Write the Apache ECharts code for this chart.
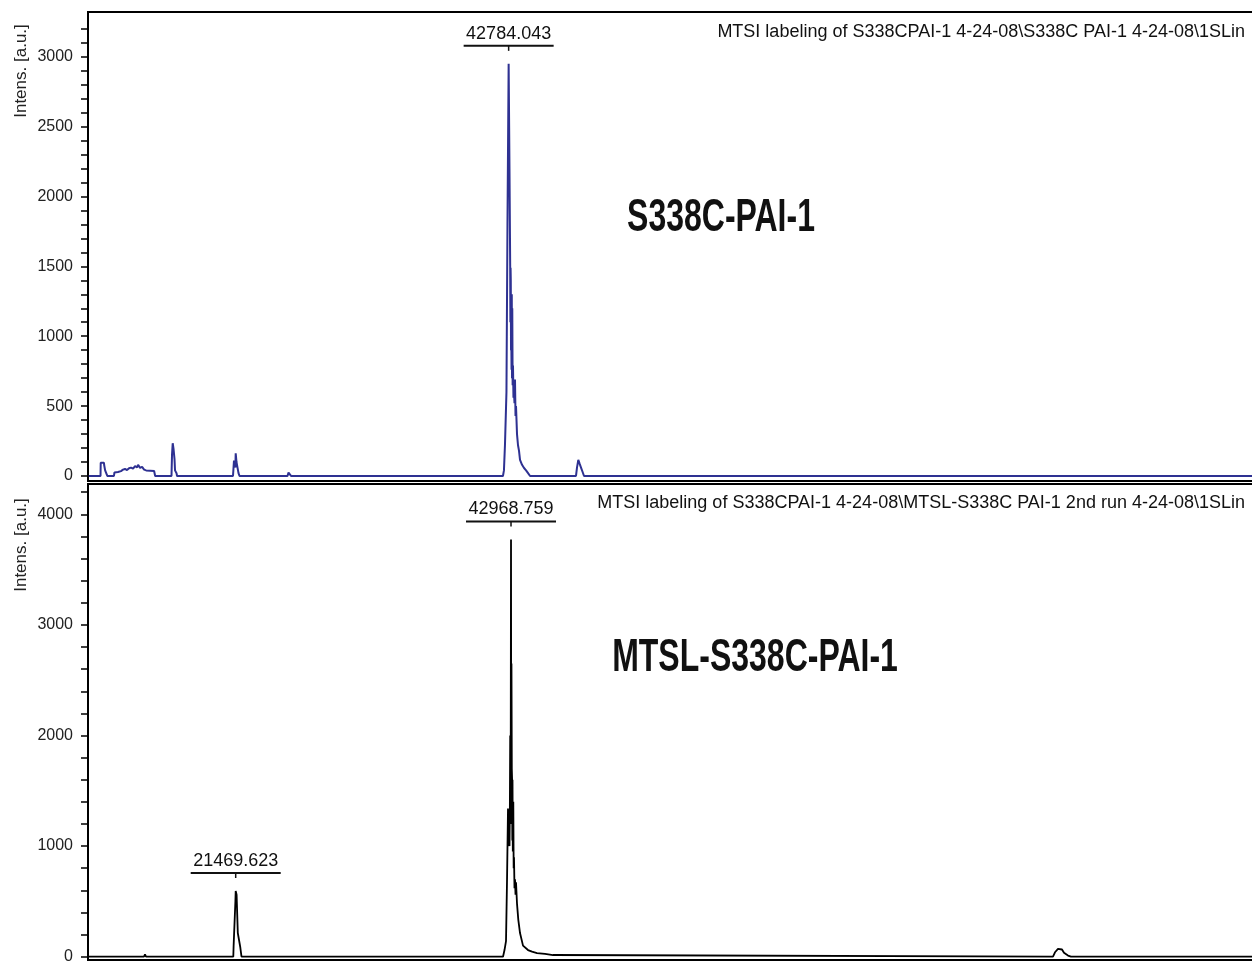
<!DOCTYPE html>
<html>
<head>
<meta charset="utf-8">
<script src="https://cdn.jsdelivr.net/npm/echarts@6/dist/echarts.min.js"></script>
<style>
  html, body { margin: 0; padding: 0; background: #fff; overflow: hidden; }
  #chart { width: 1252px; height: 962px; }
</style>
</head>
<body>
<div id="chart"></div>
<script>
// Mass range shared by both spectra (m/z); the plot runs past the right edge of the page
const massRange = [9936, 101301];

// S338C-PAI-1 spectrum: [m/z, intensity a.u.]
const topSpectrum = [
  [10000, 0], [10914, 0], [10929, 95], [11184, 95], [11194, 80], [11264, 80], [11274, 40], [11424, 40], [11444, 0],
  [11963, 0], [12002, 25], [12277, 28], [12355, 40], [12512, 35], [12669, 45], [12826, 50], [12983, 42], [13140, 55],
  [13297, 60], [13454, 52], [13611, 70], [13768, 62], [13846, 80], [14003, 58], [14160, 65], [14317, 45], [14474, 40],
  [14788, 38], [15100, 36], [15180, 0],
  [16456, 0], [16496, 150], [16551, 234], [16613, 195], [16692, 120], [16731, 40], [16849, 20], [16888, 0],
  [21258, 0], [21336, 110], [21415, 115], [21443, 60], [21470, 162], [21532, 100], [21611, 60], [21689, 20], [21768, 0],
  [25515, 0], [25593, 24], [25711, 20], [25789, 0],
  [42339, 0], [42417, 40], [42496, 220], [42613, 600], [42692, 1800], [42784.043, 2949], [42849, 2200], [42904, 1500],
  [42920, 1100], [42935, 1490], [42951, 1400], [42970, 900], [42990, 1000], [43010, 760], [43029, 1300], [43048, 700],
  [43068, 1200], [43095, 650], [43123, 790], [43160, 560], [43202, 600], [43240, 520], [43280, 690], [43320, 430],
  [43359, 500], [43437, 300], [43516, 220], [43594, 180], [43673, 115], [43830, 80], [43987, 57], [44143, 40],
  [44300, 20], [44457, 0],
  [48043, 0], [48121, 60], [48224, 115], [48318, 90], [48436, 60], [48553, 30], [48671, 0],
  [101301, 0]
];

// MTSL-S338C-PAI-1 spectrum: [m/z, intensity a.u.]
const bottomSpectrum = [
  [10000, 0], [12747, 0], [12825, 12], [12903, 0], [14309, 0], [14387, 20], [14465, 0],
  [21282, 0], [21305, 90], [21415, 100], [21446, 500], [21469.623, 594], [21540, 560], [21634, 214], [21767, 214],
  [21821, 90], [21923, 0],
  [26569, 0], [26647, 10], [26725, 0],
  [42344, 0], [42461, 60], [42578, 140], [42656, 680], [42734, 1340], [42760, 1000], [42797, 1300], [42825, 1050],
  [42851, 1000], [42880, 1350], [42906, 2000], [42940, 1200], [42968.759, 3773], [42985, 1500], [43005, 2650],
  [43031, 1700], [43055, 1600], [43070, 1050], [43086, 1600], [43110, 950], [43148, 1400], [43175, 800], [43203, 900],
  [43240, 620], [43281, 700], [43320, 560], [43359, 672], [43437, 480], [43539, 333], [43672, 214], [43906, 100],
  [44296, 60], [44609, 45], [45000, 33], [45624, 25], [46249, 15], [46405, 0],
  [85292, 0], [85448, 40], [85683, 70], [85839, 76], [85995, 65], [86151, 35], [86307, 20], [86464, 10], [86698, 0],
  [101301, 0]
];

// Annotated peak positions (m/z)
const topPeakMasses = [42784.043];
const bottomPeakMasses = [21469.623, 42968.759];

// Intensity axis labels
const topTickLabels = [0, 500, 1000, 1500, 2000, 2500, 3000];
const bottomTickLabels = [0, 1000, 2000, 3000, 4000];

// Texts
const topTitle = 'MTSI labeling of S338CPAI-1 4-24-08\\S338C PAI-1 4-24-08\\1SLin';
const bottomTitle = 'MTSI labeling of S338CPAI-1 4-24-08\\MTSL-S338C PAI-1 2nd run 4-24-08\\1SLin';
const topSample = 'S338C-PAI-1';
const bottomSample = 'MTSL-S338C-PAI-1';
const intensName = 'Intens. [a.u.]';

const FONT = '"Liberation Sans", Arial, sans-serif';

function steps(from, to, step) {
  const out = [];
  for (let v = from; v <= to; v += step) out.push(v);
  return out;
}

function yAxis(gridIndex, min, max, labels, ticks) {
  return {
    type: 'value', gridIndex, min, max,
    axisLine: { show: true, lineStyle: { color: '#000', width: 2 } },
    axisTick: { show: true, inside: false, length: 7, customValues: ticks, lineStyle: { color: '#000', width: 1.5 } },
    axisLabel: { customValues: labels, margin: 15, fontSize: 16, color: '#222', fontFamily: FONT,
                 formatter: v => String(v) },
    splitLine: { show: false }
  };
}

function peakLabels(spectrum, masses, idx) {
  const data = masses.map(m => [m, spectrum.find(p => p[0] === m)[1]]);
  return {
    type: 'custom', xAxisIndex: idx, yAxisIndex: idx, data, silent: true, clip: false, z: 5,
    renderItem(params, api) {
      const pt = api.coord([api.value(0), api.value(1)]);
      const x = pt[0];
      const barY = pt[1] - 18;
      return {
        type: 'group',
        children: [
          { type: 'line', shape: { x1: x - 45, y1: barY, x2: x + 45, y2: barY }, style: { stroke: '#111', lineWidth: 2 } },
          { type: 'line', shape: { x1: x, y1: barY, x2: x, y2: barY + 5 }, style: { stroke: '#111', lineWidth: 1.5 } },
          { type: 'text', x: x, y: barY - 3,
            style: { text: api.value(0).toFixed(3), align: 'center', verticalAlign: 'bottom',
                     fontFamily: FONT, fontSize: 18, fill: '#111' } }
        ]
      };
    }
  };
}

const chart = echarts.init(document.getElementById('chart'), null, { renderer: 'canvas' });

chart.setOption({
  animation: false,
  backgroundColor: '#fff',
  grid: [
    { left: 88, width: 1170, top: 12, height: 469, outerBoundsMode: 'none', containLabel: false,
      show: true, borderColor: '#000', borderWidth: 2 },
    { left: 88, width: 1170, top: 484, height: 476, outerBoundsMode: 'none', containLabel: false,
      show: true, borderColor: '#000', borderWidth: 2 }
  ],
  xAxis: [
    { type: 'value', gridIndex: 0, min: massRange[0], max: massRange[1], show: false },
    { type: 'value', gridIndex: 1, min: massRange[0], max: massRange[1], show: false }
  ],
  yAxis: [
    yAxis(0, -36, 3320, topTickLabels, steps(0, 3200, 100)),
    yAxis(1, -30, 4274, bottomTickLabels, steps(0, 4200, 200))
  ],
  series: [
    { type: 'line', xAxisIndex: 0, yAxisIndex: 0, data: topSpectrum, showSymbol: false, silent: true,
      lineStyle: { color: '#2e3192', width: 2 } },
    { type: 'line', xAxisIndex: 1, yAxisIndex: 1, data: bottomSpectrum, showSymbol: false, silent: true,
      lineStyle: { color: '#000', width: 1.8 } },
    peakLabels(topSpectrum, topPeakMasses, 0),
    peakLabels(bottomSpectrum, bottomPeakMasses, 1)
  ],
  graphic: [
    { type: 'text', x: 21, y: 71, rotation: Math.PI / 2,
      style: { text: intensName, align: 'center', verticalAlign: 'middle', fontFamily: FONT, fontSize: 17, fill: '#222' } },
    { type: 'text', x: 21, y: 545, rotation: Math.PI / 2,
      style: { text: intensName, align: 'center', verticalAlign: 'middle', fontFamily: FONT, fontSize: 17, fill: '#222' } },
    { type: 'text', x: 1245, y: 32,
      style: { text: topTitle, align: 'right', verticalAlign: 'middle', fontFamily: FONT, fontSize: 18, fill: '#111' } },
    { type: 'text', x: 1245, y: 503,
      style: { text: bottomTitle, align: 'right', verticalAlign: 'middle', fontFamily: FONT, fontSize: 18, fill: '#111' } },
    { type: 'text', x: 721, y: 218, scaleY: 1.45,
      style: { text: topSample, align: 'center', verticalAlign: 'middle', fontFamily: FONT, fontWeight: 'bold', fontSize: 32, fill: '#111' } },
    { type: 'text', x: 755, y: 658, scaleY: 1.45,
      style: { text: bottomSample, align: 'center', verticalAlign: 'middle', fontFamily: FONT, fontWeight: 'bold', fontSize: 32, fill: '#111' } }
  ]
});
</script>
</body>
</html>
